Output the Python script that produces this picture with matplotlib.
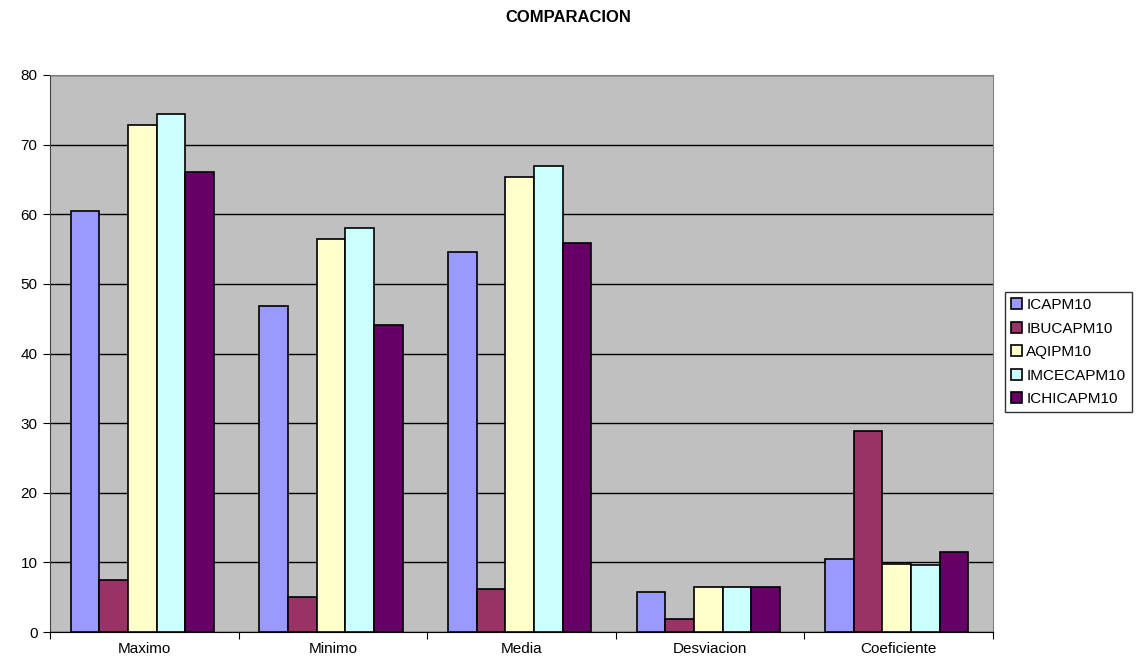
import numpy as np
import matplotlib
matplotlib.use('Agg')
import matplotlib.pyplot as plt

# === Datos ===
categorias = ["Maximo", "Minimo", "Media", "Desviacion", "Coeficiente"]
series = ["ICAPM10", "IBUCAPM10", "AQIPM10", "IMCECAPM10", "ICHICAPM10"]

icapm10 = [60.5, 46.8, 54.6, 5.7, 10.5]
ibucapm10 = [7.4, 5.0, 6.2, 1.8, 28.9]
aqipm10 = [72.8, 56.5, 65.3, 6.4, 9.8]
imcecapm10 = [74.4, 58.0, 66.9, 6.4, 9.6]
ichicapm10 = [66.1, 44.1, 55.9, 6.4, 11.5]

valores = [icapm10, ibucapm10, aqipm10, imcecapm10, ichicapm10]
colores = ["#9999FF", "#993366", "#FFFFCC", "#CCFFFF", "#660066"]

plt.rcParams['font.family'] = ['Liberation Sans', 'DejaVu Sans']

fig = plt.figure(figsize=(11.37, 6.68), dpi=100)
ax = fig.add_axes([50 / 1137, 36 / 668, 943 / 1137, 557 / 668])
ax.set_facecolor("#C0C0C0")

x = np.arange(len(categorias))
ancho = 0.152
for i, (serie, vals) in enumerate(zip(series, valores)):
    ax.bar(x + (i - 2) * ancho - 0.01, vals, ancho, color=colores[i],
           edgecolor="black", linewidth=1.2, label=serie, zorder=3)

ax.set_xlim(-0.5, len(categorias) - 0.5)
ax.set_ylim(0, 80)
ax.set_yticks(np.arange(0, 81, 10))
ax.yaxis.grid(True, color="black", linewidth=1, zorder=0)
ax.set_axisbelow(True)

# ticks en los limites de categoria, etiquetas en el centro
ax.set_xticks(np.arange(-0.5, len(categorias), 1))
ax.set_xticklabels([])
ax.set_xticks(x, minor=True)
ax.set_xticklabels(categorias, minor=True)
ax.tick_params(axis="x", which="minor", length=0, pad=7, labelsize=11)
ax.tick_params(axis="x", which="major", length=5, direction="out")
ax.tick_params(axis="y", length=5, direction="out", labelsize=11, pad=4)

for s in ["top", "right"]:
    ax.spines[s].set_color("#808080")
ax.spines["left"].set_color("#404040")
ax.spines["bottom"].set_color("black")

fig.suptitle("COMPARACION", x=0.5, y=1 - 18 / 668, va="center",
             fontsize=12, fontweight="bold")

leg = fig.legend(loc="upper left", bbox_to_anchor=(1005 / 1137, 1 - 292 / 668),
                 fontsize=11, frameon=True, fancybox=False, handlelength=0.7,
                 handleheight=0.7, handletextpad=0.3, labelspacing=0.62,
                 borderpad=0.4, borderaxespad=0)
leg.get_frame().set_edgecolor("black")
leg.get_frame().set_linewidth(1)

plt.savefig("out.png", dpi=100)
plt.close()
